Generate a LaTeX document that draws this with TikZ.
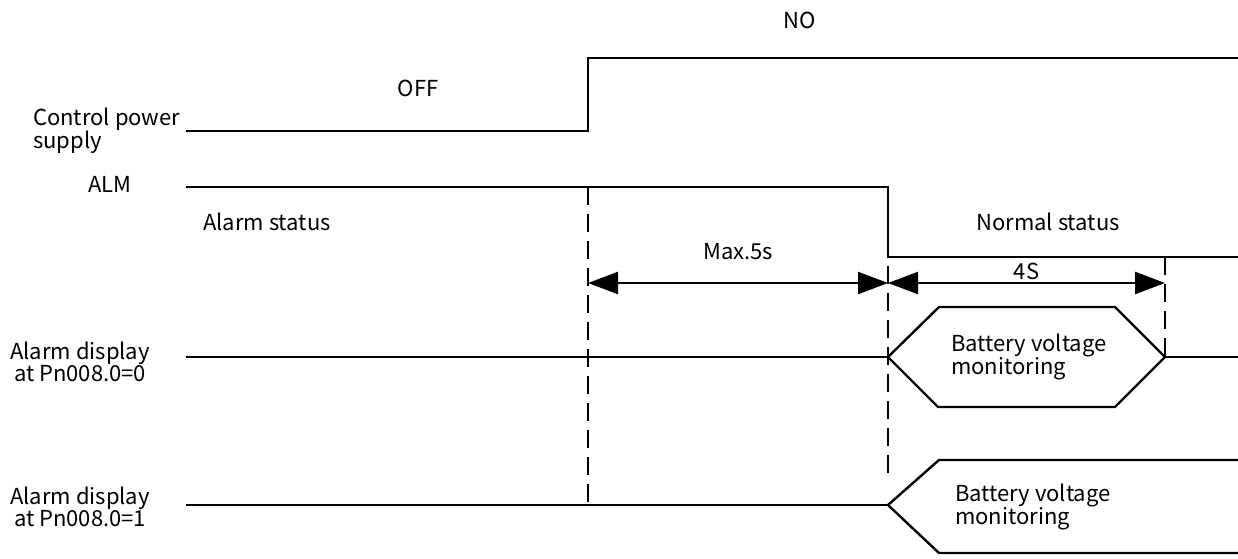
\documentclass[tikz,border=0pt]{standalone}
\usepackage{fontspec}
\setmainfont{Noto Sans CJK SC}
\usetikzlibrary{arrows.meta,positioning}

\begin{document}
\begin{tikzpicture}[x=1pt, y=-1pt, line width=2.4pt, >={Triangle[length=30pt,width=22pt]},
	every node/.style={font=\fontsize{22}{20}\selectfont, inner sep=0pt},
	lbl/.style={align=center},
	txt/.style={align=left},
	dash line/.style={line width=2.2pt, dash pattern=on 18pt off 9pt}]
	
	\useasboundingbox (0,0) rectangle (1238,558);
	
	% Signal names
	\node[txt, anchor=west] (cps) at (32,131) {Control power\\supply};
	\node[lbl] (alm) at (110,184) {ALM};
	\node[lbl] (ad0) at (80,362) {Alarm display\\at Pn008.0=0};
	\node[lbl] (ad1) at (80,507) {Alarm display\\at Pn008.0=1};
	
	% States
	\node (off) at (418,88) {OFF};
	\node (on) at (800,20) {NO};
	\node (as) at (267,222) {Alarm status};
	\node (ns) at (1048,222) {Normal status};
	
	% Key points
	\coordinate (p0) at (186,131);
	\coordinate (p1) at (588,131);
	\coordinate (p2) at (588,58);
	\coordinate (p3) at (1238,58);
	
	\coordinate (a0) at (186,187);
	\coordinate (a1) at (888,187);
	\coordinate (a2) at (888,257);
	\coordinate (a3) at (1238,257);
	
	\coordinate (h0) at (186,357);
	\coordinate (hl) at (888,357);
	\coordinate (hr) at (1165,357);
	\coordinate (h9) at (1238,357);
	
	\coordinate (b0) at (186,505);
	\coordinate (bl) at (888,505);
	
	% Waveforms
	\draw (p0) -- (p1) -- (p2) -- (p3);
	\draw (a0) -- (a1) -- (a2) -- (a3);
	\draw (h0) -- (hl);
	\draw (hr) -- (h9);
	\draw (hl) -- ++(51,-50) -- ++(176,0) -- (hr) -- ++(-50,50) -- ++(-177,0) -- cycle;
	\draw (b0) -- (bl);
	\draw (1238,460) -- (939,460) -- (bl) -- (939,553) -- (1238,553);
	
	\node[txt, anchor=west] (bv0) at (950,357) {Battery voltage\\monitoring};
	\node[txt, anchor=west] (bv1) at (954,507) {Battery voltage\\monitoring};
	
	% Guides
	\draw[dash line] (588,187) -- (588,505);
	\draw[dash line] (888,266) -- (888,480);
	\draw[dash line] (1165,257) -- (hr);
	
	% Timings
	\draw[<->] (588,283) -- (888,283) node[midway, above=22pt] (t1) {Max.5s};
	\draw[<->] (888,283) -- (1165,283) node[midway, above=2pt] (t2) {4S};
	
\end{tikzpicture}
\end{document}
